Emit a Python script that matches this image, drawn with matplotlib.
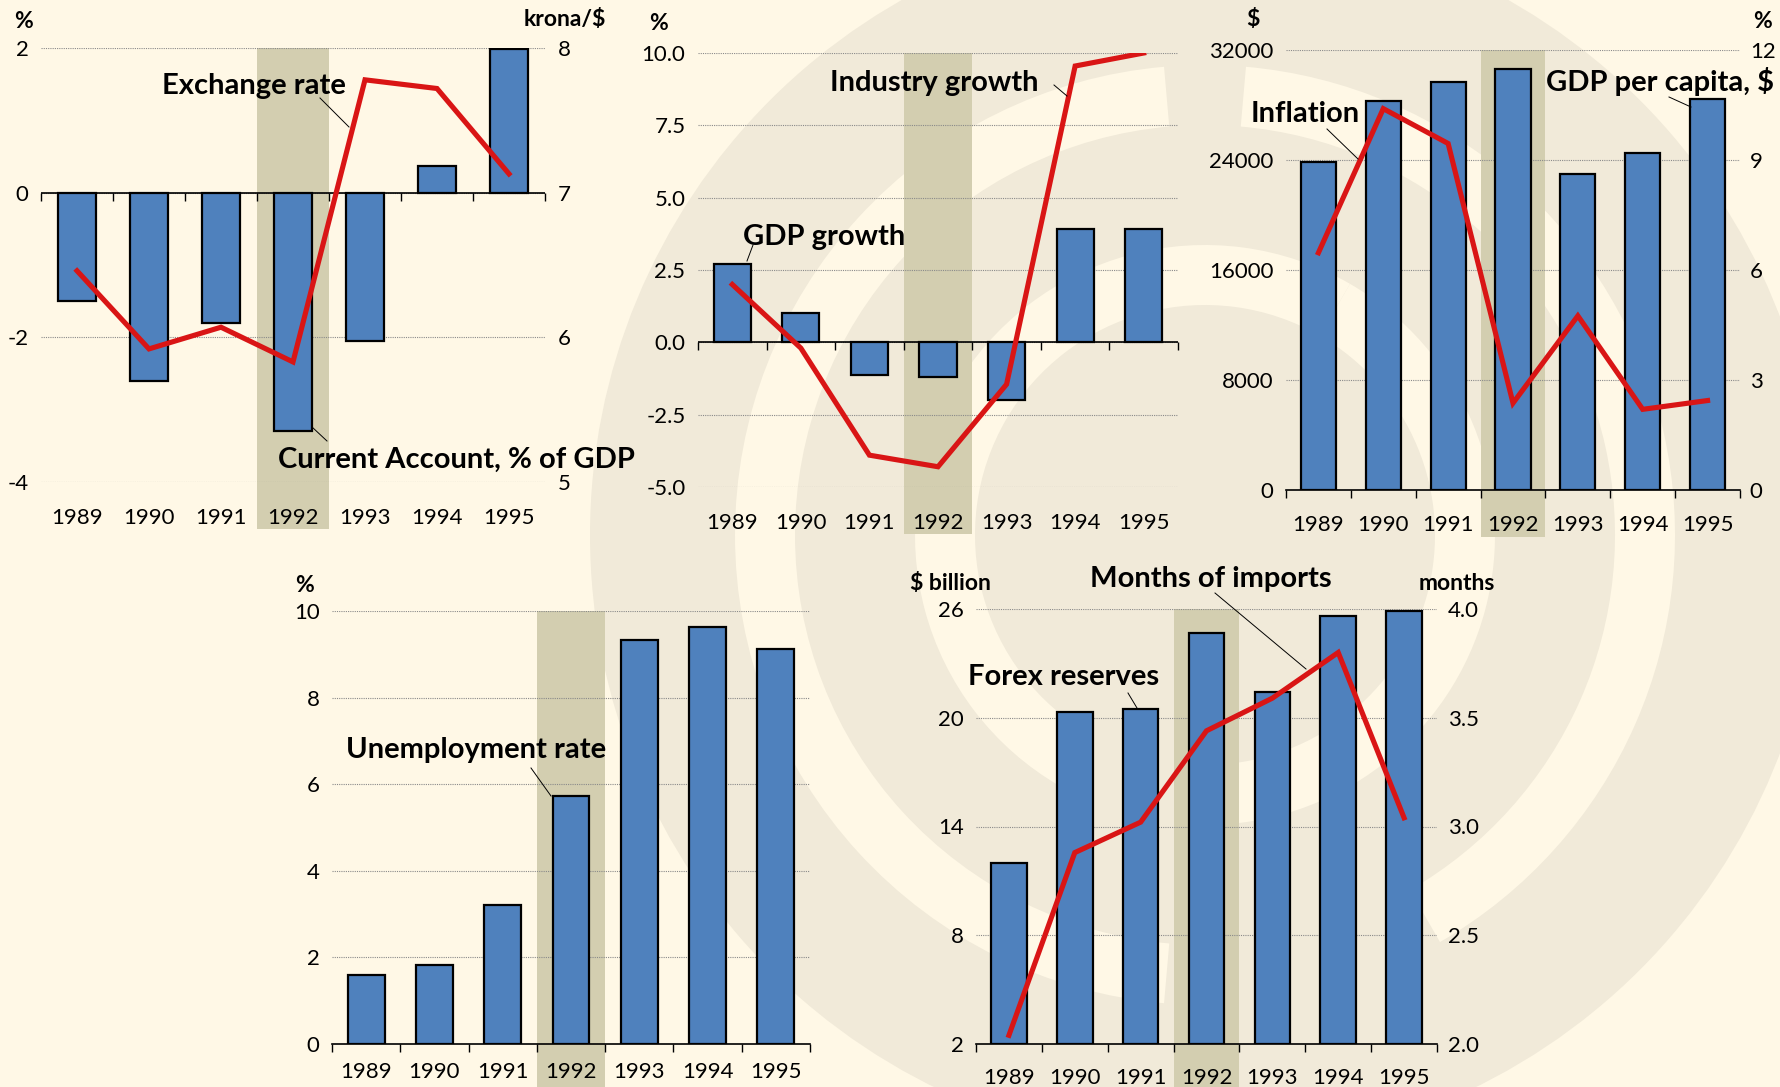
import numpy as np
import matplotlib
matplotlib.use("Agg")
import matplotlib.pyplot as plt
from matplotlib.patches import Rectangle, Circle, Wedge
from matplotlib.lines import Line2D

# ── Data ──────────────────────────────────────────────────────────────────────
years = ["1989", "1990", "1991", "1992", "1993", "1994", "1995"]

current_account = [-1.5, -2.6, -1.8, -3.3, -2.05, 0.37, 1.98]      # % of GDP
exchange_rate   = [6.46, 5.92, 6.07, 5.83, 7.78, 7.72, 7.13]       # krona/$

gdp_growth      = [2.7, 1.0, -1.13, -1.2, -2.0, 3.9, 3.9]          # %
industry_growth = [2.0, -0.2, -3.9, -4.3, -1.45, 9.55, 10.0]       # %

gdp_per_capita  = [23860, 28260, 29660, 30620, 22980, 24520, 28410]  # $
inflation       = [6.47, 10.4, 9.45, 2.37, 4.75, 2.2, 2.44]          # %

unemployment    = [1.6, 1.82, 3.2, 5.72, 9.32, 9.62, 9.13]           # %

forex_reserves  = [12.0, 20.3, 20.5, 24.7, 21.4, 25.6, 25.9]         # $ billion
import_months   = [2.04, 2.88, 3.02, 3.44, 3.59, 3.80, 3.04]         # months

# ── Style ─────────────────────────────────────────────────────────────────────
CREAM = "#FFF8E6"
BEIGE = "#F1EAD9"
SHADE = "#D3CEB0"
BLUE  = "#4F81BD"
RED   = "#D91515"
GRID  = "#8A8A8A"
plt.rcParams["font.family"] = ["Lato", "DejaVu Sans"]
TICK_FS = 16
ANN_FS = 21
UNIT_FS = 16.5

W, H, DPI = 1781, 1087, 100
fig = plt.figure(figsize=(W / DPI, H / DPI), dpi=DPI)
fig.patch.set_facecolor(CREAM)


def rect(x0, y0, x1, y1):
    """pixel box (top-left origin) -> figure fraction rect"""
    return [x0 / W, 1 - y1 / H, (x1 - x0) / W, (y1 - y0) / H]


def fx(x, y):
    return x / W, 1 - y / H


# ── Watermark (faint logo in background) ──────────────────────────────────────
bg = fig.add_axes([0, 0, 1, 1], zorder=-10)
bg.set_xlim(0, W)
bg.set_ylim(H, 0)
bg.axis("off")
bg.add_patch(Circle((1205, 535), 615, color=BEIGE, lw=0))
bg.add_patch(Wedge((1205, 535), 470, 95, 265, width=60, color=CREAM, lw=0))
bg.add_patch(Wedge((1205, 535), 470, -85, 60, width=60, color=CREAM, lw=0))
bg.add_patch(Wedge((1205, 535), 290, 120, 300, width=60, color=CREAM, lw=0))
bg.add_patch(Wedge((1205, 535), 290, -60, 90, width=60, color=CREAM, lw=0))
bg.add_patch(Wedge((300, -150), 520, -40, 10, width=90, color=BEIGE, lw=0))

x = np.arange(len(years))
bounds = np.arange(-0.5, len(years), 1.0)


def panel(box, ylim, yticks, yfmt, label_pad):
    ax = fig.add_axes(rect(*box))
    ax.set_facecolor("none")
    ax.set_xlim(-0.5, len(years) - 0.5)
    ax.set_ylim(*ylim)
    ax.set_yticks(yticks)
    ax.set_yticklabels([yfmt.format(v) for v in yticks])
    ax.tick_params(axis="y", length=0, pad=9, labelsize=TICK_FS)
    for s in ax.spines.values():
        s.set_visible(False)
    ax.grid(axis="y", color=GRID, lw=0.8, ls=(0, (1, 1)))
    ax.set_axisbelow(True)
    ax.set_xticks(x)
    ax.set_xticklabels(years)
    ax.tick_params(axis="x", which="major", length=0, pad=label_pad, labelsize=TICK_FS)
    # shaded crisis year 1992
    trans = ax.get_xaxis_transform()
    ext = 47 / (box[3] - box[1])
    ax.add_patch(Rectangle((2.5, -ext), 1.0, 1 + ext, transform=trans,
                           facecolor=SHADE, edgecolor="none", zorder=0.5, clip_on=False))
    return ax


def baseline_at_zero(ax):
    ax.axhline(0, color="black", lw=1.2, zorder=2)
    ax.plot(bounds, np.zeros_like(bounds), ls="none", marker=3, ms=6, mew=1,
            color="black", clip_on=False, zorder=2)


def baseline_bottom(ax):
    ax.spines["bottom"].set_visible(True)
    ax.spines["bottom"].set_linewidth(1.2)
    ax.set_xticks(bounds, minor=True)
    ax.tick_params(axis="x", which="minor", length=6, width=1, direction="out")


def bars(ax, vals, bottom=0):
    ax.bar(x, np.array(vals) - bottom, bottom=bottom, width=0.54, color=BLUE,
           edgecolor="black", linewidth=1.6, zorder=3)


def right_axis(ax, ylim, yticks, yfmt, pad=8):
    ax2 = ax.twinx()
    ax2.set_ylim(*ylim)
    ax2.set_yticks(yticks)
    ax2.set_yticklabels([yfmt.format(v) for v in yticks])
    ax2.tick_params(axis="y", length=0, pad=pad, labelsize=TICK_FS)
    for s in ax2.spines.values():
        s.set_visible(False)
    return ax2


def redline(ax, vals):
    ax.plot(x, vals, color=RED, lw=3.7, solid_joinstyle="miter", zorder=4)


def label(text, cx, cy, size=ANN_FS):
    fig.text(*fx(cx, cy), text, ha="center", va="center", fontsize=size,
             fontweight="bold", zorder=10)


def leader(x0, y0, x1, y1):
    (a, b), (c, d) = fx(x0, y0), fx(x1, y1)
    fig.add_artist(Line2D([a, c], [b, d], transform=fig.transFigure,
                          color="black", lw=0.7, zorder=10))


# ── Panel 1: current account + exchange rate ─────────────────────────────────
ax1 = panel((41, 48, 545, 482), (-4, 2), [-4, -2, 0, 2], "{:g}", 19)
baseline_at_zero(ax1)
bars(ax1, current_account)
ax1b = right_axis(ax1, (5, 8), [5, 6, 7, 8], "{:g}", pad=9)
redline(ax1b, exchange_rate)
label("%", 24, 21, UNIT_FS)
label("krona/$", 565, 19, UNIT_FS)
label("Exchange rate", 254, 86)
leader(320, 98, 349, 127)
label("Current Account, % of GDP", 456, 460)
leader(312, 427, 327, 441)

# ── Panel 2: GDP growth + industry growth ────────────────────────────────────
ax2 = panel((698, 53, 1178, 487), (-5, 10), [-5, -2.5, 0, 2.5, 5, 7.5, 10], "{:.1f}", 19)
baseline_at_zero(ax2)
bars(ax2, gdp_growth)
redline(ax2, industry_growth)
label("%", 659, 24, UNIT_FS)
label("Industry growth", 934, 83)
leader(1054, 85, 1067, 96)
label("GDP growth", 824, 237)
leader(753, 245, 747, 261)

# ── Panel 3: GDP per capita + inflation ──────────────────────────────────────
ax3 = panel((1286, 50, 1740, 490), (0, 32000), [0, 8000, 16000, 24000, 32000], "{:d}", 18)
baseline_bottom(ax3)
bars(ax3, gdp_per_capita)
ax3b = right_axis(ax3, (0, 12), [0, 3, 6, 9, 12], "{:d}", pad=7)
redline(ax3b, inflation)
label("$", 1253, 19, UNIT_FS)
label("%", 1763, 21, UNIT_FS)
label("Inflation", 1305, 114)
leader(1327, 129, 1358, 159)
label("GDP per capita, $", 1660, 81)
leader(1669, 97, 1691, 107)

# ── Panel 4: unemployment ────────────────────────────────────────────────────
ax4 = panel((332, 611, 810, 1044), (0, 10), [0, 2, 4, 6, 8, 10], "{:d}", 13)
baseline_bottom(ax4)
bars(ax4, unemployment)
label("%", 305, 585, UNIT_FS)
label("Unemployment rate", 476, 750)
leader(531, 768, 551, 796)

# ── Panel 5: forex reserves + months of imports ──────────────────────────────
ax5 = panel((976, 609, 1437, 1044), (2, 26), [2, 8, 14, 20, 26], "{:d}", 17)
baseline_bottom(ax5)
bars(ax5, forex_reserves, bottom=2)
ax5b = right_axis(ax5, (2, 4), [2.0, 2.5, 3.0, 3.5, 4.0], "{:.1f}", pad=8)
redline(ax5b, import_months)
label("$ billion", 950, 584, UNIT_FS)
label("months", 1457, 583, UNIT_FS)
label("Months of imports", 1211, 579)
leader(1215, 593, 1306, 669)
label("Forex reserves", 1064, 677)
leader(1128, 693, 1137, 708)

fig.savefig("out.png", dpi=DPI, facecolor=CREAM)
